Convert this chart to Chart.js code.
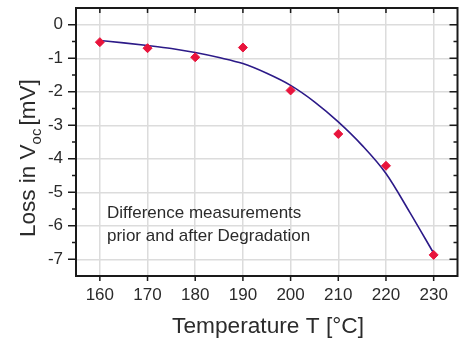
<!DOCTYPE html>
<html>
<head>
<meta charset="utf-8">
<script src="https://cdn.jsdelivr.net/npm/chart.js@4.4.1/dist/chart.umd.min.js"></script>
<style>
  html, body { margin: 0; padding: 0; background: #fff; overflow: hidden; }
  #wrap { width: 463px; height: 343px; }
</style>
</head>
<body>
<div id="wrap"><canvas id="vocChart"></canvas></div>
<script>
// ---- data ----
const tempMeasured = [160, 170, 180, 190, 200, 210, 220, 230];
const lossMeasured = [-0.52, -0.70, -0.97, -0.68, -1.96, -3.26, -4.21, -6.87];

// fitted curve
const tempFit = [160, 165, 170, 175, 180, 185, 190, 195, 200, 205, 210, 215, 220, 225, 230];
const lossFit = [-0.47, -0.54, -0.62, -0.71, -0.83, -0.98, -1.16, -1.45, -1.81, -2.30, -2.90, -3.60, -4.44, -5.60, -6.82];

// ticks
const xTicks = [160, 170, 180, 190, 200, 210, 220, 230];
const yTicks = [0, -1, -2, -3, -4, -5, -6, -7];

const noteLines = ['Difference measurements', 'prior and after Degradation'];

const FONT = '"Liberation Sans", Arial, sans-serif';
const TEXT = '#2b2b2b';

// frame, minor ticks, axis titles, note
const framePlugin = {
  id: 'frame',
  afterDraw(chart) {
    const c = chart.ctx;
    const a = chart.chartArea;
    const xs = chart.scales.x, ys = chart.scales.y;
    c.save();
    c.strokeStyle = '#1a1a1a';
    c.lineWidth = 2;
    c.strokeRect(a.left, a.top, a.right - a.left, a.bottom - a.top);

    c.lineWidth = 1.5;
    c.beginPath();
    // x ticks: majors and halfway minors
    xTicks.forEach(function(v) {
      const px = xs.getPixelForValue(v);
      c.moveTo(px, a.bottom); c.lineTo(px, a.bottom + 5);
      c.moveTo(px, a.top); c.lineTo(px, a.top + 5);
    });
    for (let v = xs.min + 5; v < xs.max; v += 10) {
      const px = xs.getPixelForValue(v);
      c.moveTo(px, a.bottom); c.lineTo(px, a.bottom + 3);
      c.moveTo(px, a.top); c.lineTo(px, a.top + 3);
    }
    yTicks.forEach(function(v) {
      const py = ys.getPixelForValue(v);
      c.moveTo(a.left, py); c.lineTo(a.left - 8, py);
      c.moveTo(a.right, py); c.lineTo(a.right - 8, py);
    });
    for (let v = ys.max - 1; v > ys.min; v -= 1) {
      const py = ys.getPixelForValue(v);
      c.moveTo(a.left, py); c.lineTo(a.left - 4, py);
      c.moveTo(a.right, py); c.lineTo(a.right - 4, py);
    }
    c.stroke();

    c.fillStyle = TEXT;
    // x title
    c.font = '22.7px ' + FONT;
    c.textAlign = 'center';
    c.textBaseline = 'alphabetic';
    c.fillText('Temperature T [°C]', 268, 333);

    // y title with subscript
    c.save();
    c.translate(35, 237);
    c.rotate(-Math.PI / 2);
    c.textAlign = 'left';
    let x = 0;
    c.font = '22.5px ' + FONT;
    c.fillText('Loss in V', x, 0);
    x += c.measureText('Loss in V').width;
    c.font = '15px ' + FONT;
    c.fillText('oc', x, 6);
    x += c.measureText('oc').width + 3;
    c.font = '22.5px ' + FONT;
    c.fillText('[mV]', x, 0);
    c.restore();

    // note
    c.font = '17px ' + FONT;
    c.textAlign = 'left';
    noteLines.forEach(function(t, i) {
      c.fillText(t, 107, 218 + i * 23);
    });
    c.restore();
  }
};

new Chart(document.getElementById('vocChart'), {
  type: 'scatter',
  data: {
    datasets: [
      {
        label: 'measured',
        data: tempMeasured.map(function(t, i) { return { x: t, y: lossMeasured[i] }; }),
        pointStyle: 'rectRot',
        pointRadius: 4.5,
        pointBackgroundColor: '#e8143c',
        pointBorderColor: '#e8143c',
        showLine: false
      },
      {
        label: 'fit',
        data: tempFit.map(function(t, i) { return { x: t, y: lossFit[i] }; }),
        showLine: true,
        borderColor: '#2c1a88',
        borderWidth: 1.6,
        pointRadius: 0,
        cubicInterpolationMode: 'monotone'
      }
    ]
  },
  options: {
    responsive: true,
    maintainAspectRatio: false,
    animation: false,
    layout: { padding: { top: 8, right: 1, left: 0, bottom: 0 } },
    plugins: { legend: { display: false }, tooltip: { enabled: false } },
    scales: {
      x: {
        type: 'linear',
        min: 155, max: 235,
        afterBuildTicks: function(s) { s.ticks = xTicks.map(function(v) { return { value: v }; }); },
        afterFit: function(s) { s.height = 67; s.paddingLeft = 0; s.paddingRight = 0; },
        grid: { color: '#dcdcdc', lineWidth: 1.5, drawTicks: false },
        border: { display: false },
        ticks: { padding: 9, color: TEXT, font: { family: FONT, size: 17 } }
      },
      y: {
        type: 'linear',
        min: -7.5, max: 0.5,
        afterBuildTicks: function(s) { s.ticks = yTicks.map(function(v) { return { value: v }; }); },
        afterFit: function(s) { s.width = 76; s.paddingTop = 0; s.paddingBottom = 0; },
        grid: { color: '#dcdcdc', lineWidth: 1.5, drawTicks: false },
        border: { display: false },
        ticks: { padding: 13, color: TEXT, font: { family: FONT, size: 17 } }
      }
    }
  },
  plugins: [framePlugin]
});
</script>
</body>
</html>
